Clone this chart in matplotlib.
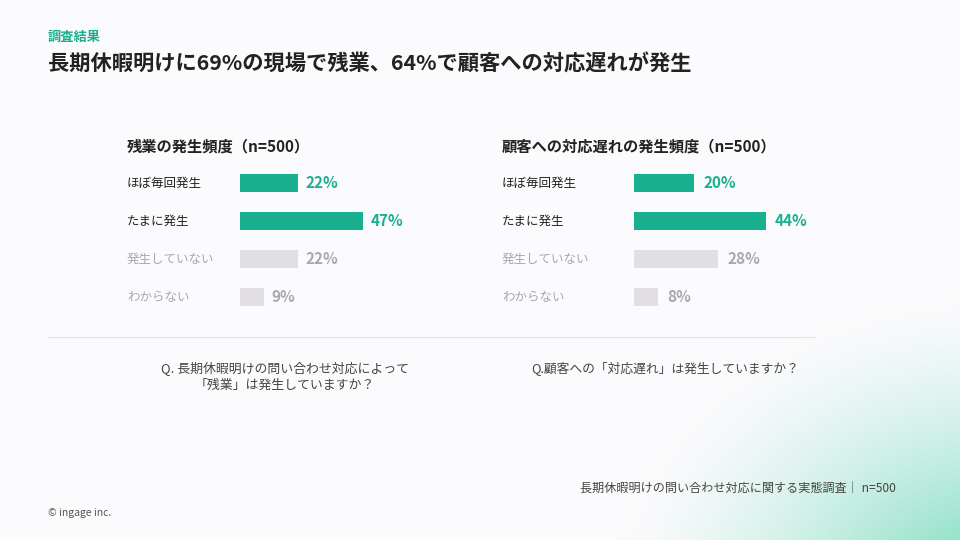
import matplotlib
matplotlib.use("Agg")
import matplotlib.pyplot as plt
import numpy as np

plt.rcParams['font.family'] = ['Noto Sans CJK JP', 'DejaVu Sans']

categories = ["ほぼ毎回発生", "たまに発生", "発生していない", "わからない"]
overtime = [22, 47, 22, 9]
delay = [20, 44, 28, 8]
highlight = [True, True, False, False]

TEAL = "#19b08f"
GRAY = "#e1dfe3"
GTXT = "#a9a9ad"
DARK = "#222222"

W, H = 960, 540
fig = plt.figure(figsize=(9.6, 5.4), dpi=100)

# background gradient
bg = fig.add_axes([0, 0, 1, 1])
yy, xx = np.mgrid[0:H, 0:W]
d = np.sqrt(((xx - 1000) / 330.0) ** 2 + ((yy - 600) / 260.0) ** 2)
t = np.clip(1.2 - d, 0, 1) ** 1.5
base = np.array([0.985, 0.982, 0.99])
teal = np.array([0.55, 0.88, 0.78])
img = base[None, None, :] * (1 - t[..., None]) + teal[None, None, :] * t[..., None]
bg.imshow(img, extent=[0, W, H, 0], aspect='auto')
bg.set_xlim(0, W); bg.set_ylim(H, 0); bg.axis('off')

def fx(x): return x / W
def fy(y): return 1 - y / H

fig.text(fx(48), fy(37), "調査結果", color=TEAL, fontsize=9.5, fontweight='bold', va='center')
fig.text(fx(48), fy(64), "長期休暇明けに69%の現場で残業、64%で顧客への対応遅れが発生",
         color=DARK, fontsize=15.3, fontweight='bold', va='center')

def panel(x0, scale, title, vals, title_x):
    top, bottom = 164, 316
    ax = fig.add_axes([fx(x0), fy(bottom), scale / W, (bottom - top) / H])
    ax.set_xlim(0, 100)
    ax.set_ylim(3.5, -0.5)
    ax.axis('off')
    ax.patch.set_alpha(0)
    for i, (c, v, h) in enumerate(zip(categories, vals, highlight)):
        ax.barh(i, v, height=0.47, color=TEAL if h else GRAY)
        ax.text(v + 3, i, f"{v}%", va='center', ha='left', fontsize=11, fontweight='bold',
                color=TEAL if h else GTXT)
        fig.text(fx(title_x), fy(183 + 38 * i), c, va='center', ha='left', fontsize=9,
                 color=DARK if h else GTXT)
    fig.text(fx(title_x), fy(146), title, va='center', ha='left', fontsize=11,
             fontweight='bold', color=DARK)

panel(240, 262, "残業の発生頻度（n=500）", overtime, 127)
panel(634, 300, "顧客への対応遅れの発生頻度（n=500）", delay, 502)

bg.plot([48, 815], [337, 337], color="#e4e4e8", lw=0.8)
fig.text(fx(285), fy(377), "Q. 長期休暇明けの問い合わせ対応によって\n「残業」は発生していますか？",
         ha='center', va='center', fontsize=9.3, color="#444444", linespacing=1.3)
fig.text(fx(665), fy(368), "Q.顧客への「対応遅れ」は発生していますか？",
         ha='center', va='center', fontsize=9.2, color="#444444")
fig.text(fx(896), fy(488), "長期休暇明けの問い合わせ対応に関する実態調査｜ n=500",
         ha='right', va='center', fontsize=8.7, color="#444444")
fig.text(fx(48), fy(513), "© ingage inc.", ha='left', va='center', fontsize=7.5, color="#555555")

fig.savefig("out.png", dpi=100)
